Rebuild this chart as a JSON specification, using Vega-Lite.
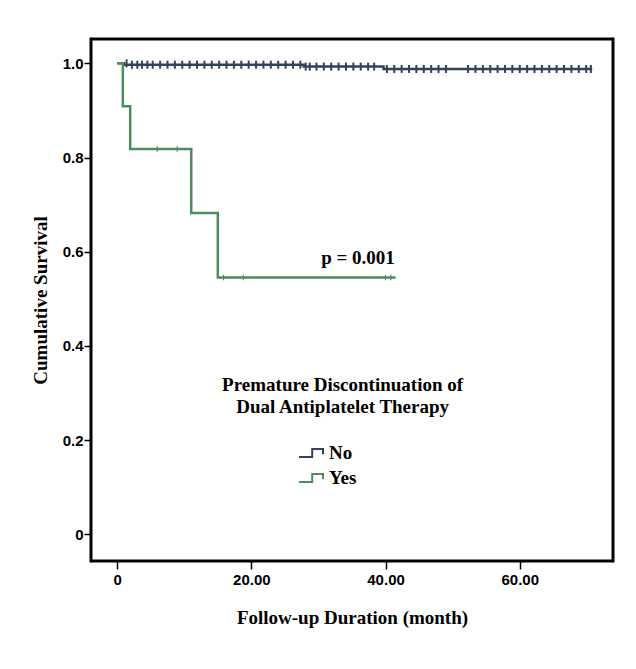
{
  "$schema": "https://vega.github.io/schema/vega-lite/v6.json",
  "autosize": {"type": "none"},
  "width": 522,
  "height": 522,
  "padding": {"left": 91, "top": 39, "right": 23, "bottom": 108},
  "background": "white",
  "config": {
    "view": {"stroke": "black", "strokeWidth": 3},
    "axis": {
      "domain": false,
      "grid": false,
      "tickColor": "black",
      "tickWidth": 1.5,
      "tickSize": 8,
      "labelFont": "Liberation Sans Narrow, Liberation Sans, Arial Narrow, sans-serif",
      "labelFontWeight": "bold",
      "labelFontSize": 15,
      "labelColor": "black",
      "titleFont": "Liberation Serif, Times New Roman, serif",
      "titleFontSize": 19,
      "titleFontWeight": "bold",
      "titleColor": "black"
    }
  },
  "datasets": {
    "curve": [
      {"group": "No", "t": 0, "s": 1.0},
      {"group": "No", "t": 1.0, "s": 0.997},
      {"group": "No", "t": 27.8, "s": 0.993},
      {"group": "No", "t": 39.7, "s": 0.988},
      {"group": "No", "t": 70.8, "s": 0.988},
      {"group": "Yes", "t": 0, "s": 1.0},
      {"group": "Yes", "t": 0.85, "s": 0.909},
      {"group": "Yes", "t": 1.94, "s": 0.818},
      {"group": "Yes", "t": 11.04, "s": 0.682},
      {"group": "Yes", "t": 15.0, "s": 0.545},
      {"group": "Yes", "t": 41.5, "s": 0.545}
    ],
    "censor": [
      {"group": "No", "t": 1.4, "s": 1.0},
      {"group": "No", "t": 2.2, "s": 0.997},
      {"group": "No", "t": 3.0, "s": 0.997},
      {"group": "No", "t": 3.7, "s": 0.997},
      {"group": "No", "t": 4.5, "s": 0.997},
      {"group": "No", "t": 5.3, "s": 0.997},
      {"group": "No", "t": 6.4, "s": 0.997},
      {"group": "No", "t": 7.5, "s": 0.997},
      {"group": "No", "t": 8.6, "s": 0.997},
      {"group": "No", "t": 9.7, "s": 0.997},
      {"group": "No", "t": 10.8, "s": 0.997},
      {"group": "No", "t": 11.9, "s": 0.997},
      {"group": "No", "t": 13.0, "s": 0.997},
      {"group": "No", "t": 14.1, "s": 0.997},
      {"group": "No", "t": 15.2, "s": 0.997},
      {"group": "No", "t": 16.3, "s": 0.997},
      {"group": "No", "t": 17.4, "s": 0.997},
      {"group": "No", "t": 18.5, "s": 0.997},
      {"group": "No", "t": 19.6, "s": 0.997},
      {"group": "No", "t": 20.7, "s": 0.997},
      {"group": "No", "t": 21.8, "s": 0.997},
      {"group": "No", "t": 22.9, "s": 0.997},
      {"group": "No", "t": 24.0, "s": 0.997},
      {"group": "No", "t": 25.1, "s": 0.997},
      {"group": "No", "t": 26.2, "s": 0.997},
      {"group": "No", "t": 27.3, "s": 0.997},
      {"group": "No", "t": 28.1, "s": 0.993},
      {"group": "No", "t": 28.7, "s": 0.993},
      {"group": "No", "t": 29.7, "s": 0.993},
      {"group": "No", "t": 30.8, "s": 0.993},
      {"group": "No", "t": 31.9, "s": 0.993},
      {"group": "No", "t": 33.0, "s": 0.993},
      {"group": "No", "t": 34.1, "s": 0.993},
      {"group": "No", "t": 35.2, "s": 0.993},
      {"group": "No", "t": 36.3, "s": 0.993},
      {"group": "No", "t": 37.4, "s": 0.993},
      {"group": "No", "t": 38.3, "s": 0.993},
      {"group": "No", "t": 40.2, "s": 0.988},
      {"group": "No", "t": 41.3, "s": 0.988},
      {"group": "No", "t": 42.4, "s": 0.988},
      {"group": "No", "t": 43.5, "s": 0.988},
      {"group": "No", "t": 44.6, "s": 0.988},
      {"group": "No", "t": 45.7, "s": 0.988},
      {"group": "No", "t": 46.8, "s": 0.988},
      {"group": "No", "t": 47.9, "s": 0.988},
      {"group": "No", "t": 49.0, "s": 0.988},
      {"group": "No", "t": 52.3, "s": 0.988},
      {"group": "No", "t": 53.4, "s": 0.988},
      {"group": "No", "t": 54.5, "s": 0.988},
      {"group": "No", "t": 55.6, "s": 0.988},
      {"group": "No", "t": 56.7, "s": 0.988},
      {"group": "No", "t": 57.8, "s": 0.988},
      {"group": "No", "t": 58.9, "s": 0.988},
      {"group": "No", "t": 60.0, "s": 0.988},
      {"group": "No", "t": 61.1, "s": 0.988},
      {"group": "No", "t": 62.2, "s": 0.988},
      {"group": "No", "t": 63.3, "s": 0.988},
      {"group": "No", "t": 64.4, "s": 0.988},
      {"group": "No", "t": 65.5, "s": 0.988},
      {"group": "No", "t": 66.6, "s": 0.988},
      {"group": "No", "t": 67.7, "s": 0.988},
      {"group": "No", "t": 68.8, "s": 0.988},
      {"group": "No", "t": 69.9, "s": 0.988},
      {"group": "No", "t": 70.6, "s": 0.988},
      {"group": "Yes", "t": 5.97, "s": 0.818},
      {"group": "Yes", "t": 8.95, "s": 0.818},
      {"group": "Yes", "t": 15.85, "s": 0.545},
      {"group": "Yes", "t": 18.8, "s": 0.545},
      {"group": "Yes", "t": 40.0, "s": 0.545},
      {"group": "Yes", "t": 40.8, "s": 0.545}
    ],
    "notes": [
      {"t": 35.9, "s": 0.586, "label": "p = 0.001"},
      {"t": 33.6, "s": 0.3166, "label": "Premature Discontinuation of"},
      {"t": 33.6, "s": 0.2698, "label": "Dual Antiplatelet Therapy"}
    ]
  },
  "layer": [
    {
      "data": {"name": "curve"},
      "mark": {"type": "line", "interpolate": "step-after", "strokeWidth": 2.5},
      "encoding": {
        "x": {
          "field": "t", "type": "quantitative",
          "scale": {"domain": [-3.9, 73.9], "nice": false, "zero": false},
          "axis": {
            "values": [0, 20, 40, 60],
            "labelExpr": "datum.value == 0 ? '0' : format(datum.value, '.2f')",
            "labelPadding": 3,
            "titlePadding": 21
          },
          "title": "Follow-up Duration (month)"
        },
        "y": {
          "field": "s", "type": "quantitative",
          "scale": {"domain": [-0.0567, 1.0516], "nice": false, "zero": false},
          "axis": {
            "values": [0, 0.2, 0.4, 0.6, 0.8, 1.0],
            "labelExpr": "datum.value == 0 ? '0' : format(datum.value, '.1f')",
            "tickSize": 7,
            "labelPadding": 1,
            "titlePadding": 12
          },
          "title": "Cumulative Survival"
        },
        "color": {
          "field": "group", "type": "nominal",
          "scale": {"domain": ["No", "Yes"], "range": ["#33415a", "#4e8c5f"]},
          "legend": {
            "title": null,
            "orient": "none",
            "legendX": 207,
            "legendY": 401,
            "symbolType": "M-1,0.33L0.1,0.33L0.1,-0.33L1,-0.33L1,0.1",
            "symbolSize": 576,
            "symbolStrokeWidth": 2,
            "symbolFillColor": "transparent",
            "labelFont": "Liberation Serif, Times New Roman, serif",
            "labelFontSize": 19,
            "labelFontWeight": "bold",
            "labelColor": "black",
            "labelOffset": 5,
            "rowPadding": 2
          }
        }
      }
    },
    {
      "data": {"name": "censor"},
      "transform": [{"filter": "datum.group == 'No'"}],
      "mark": {"type": "point", "shape": "M0,-1L0,1", "filled": false, "strokeWidth": 2, "opacity": 1},
      "encoding": {
        "x": {"field": "t", "type": "quantitative"},
        "y": {"field": "s", "type": "quantitative"},
        "size": {"value": 64},
        "color": {"value": "#33415a"}
      }
    },
    {
      "data": {"name": "censor"},
      "transform": [{"filter": "datum.group == 'Yes'"}],
      "mark": {"type": "point", "shape": "M0,-1L0,1", "filled": false, "strokeWidth": 1.2, "opacity": 1},
      "encoding": {
        "x": {"field": "t", "type": "quantitative"},
        "y": {"field": "s", "type": "quantitative"},
        "size": {"value": 30},
        "color": {"value": "#4e8c5f"}
      }
    },
    {
      "data": {"name": "notes"},
      "mark": {"type": "text", "font": "Liberation Serif, Times New Roman, serif", "fontSize": 19, "fontWeight": "bold", "color": "black", "align": "center", "baseline": "middle"},
      "encoding": {
        "x": {"field": "t", "type": "quantitative"},
        "y": {"field": "s", "type": "quantitative"},
        "text": {"field": "label"}
      }
    }
  ]
}
